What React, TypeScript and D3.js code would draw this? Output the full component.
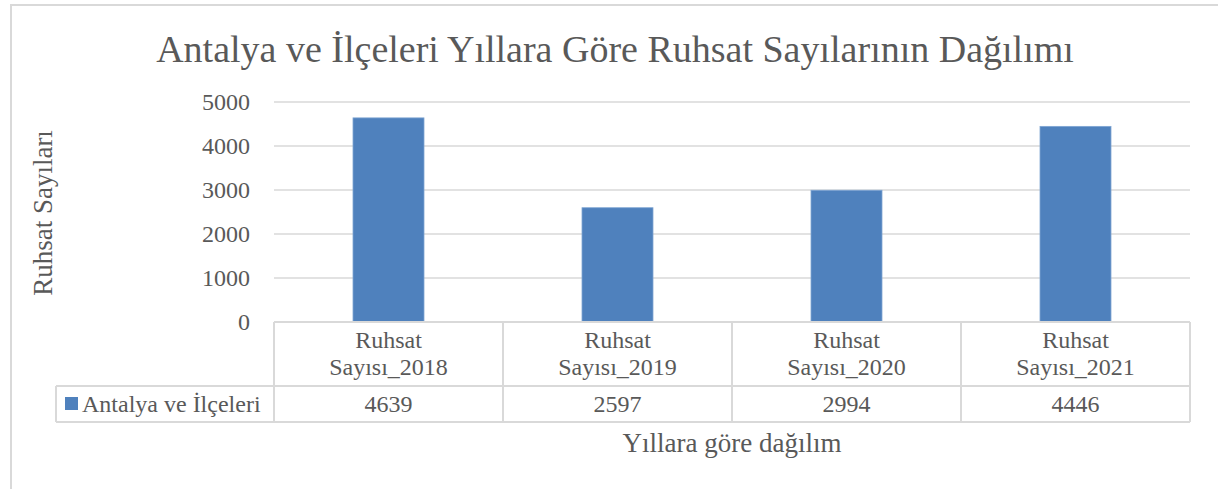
import * as d3 from 'd3';

const categories = ['Ruhsat Sayısı_2018', 'Ruhsat Sayısı_2019', 'Ruhsat Sayısı_2020', 'Ruhsat Sayısı_2021'];
const values = [4639, 2597, 2994, 4446];
const yTicks = [0, 1000, 2000, 3000, 4000, 5000];
const seriesName = 'Antalya ve İlçeleri';
const title = 'Antalya ve İlçeleri Yıllara Göre Ruhsat Sayılarının Dağılımı';
const yTitle = 'Ruhsat Sayıları';
const xTitle = 'Yıllara göre dağılım';

const W = 1218;
const H = 489;
const font = '"Liberation Serif", serif';
const textColor = '#595959';
const lineColor = '#D9D9D9';
const barColor = '#4F81BD';

const plot = { left: 274, right: 1190, top: 102, bottom: 322 };
const headerBottom = 386;
const rowBottom = 422;
const legendLeft = 56;

const App = () => {
  const x = d3.scaleBand().domain(categories).range([plot.left, plot.right]);
  const y = d3.scaleLinear().domain([0, 5000]).range([plot.bottom, plot.top]);
  const barW = 71;
  const bounds = [plot.left, ...categories.map((c) => (x(c) || 0) + x.bandwidth())];

  return (
    <svg
      width={W}
      height={H}
      style={{ position: 'absolute', left: 0, top: 0, background: '#fff' }}
      fontFamily={font}
      fill={textColor}
    >
      {/* chart frame */}
      <rect x={11} y={5} width={W + 20} height={H + 20} fill="#fff" stroke={lineColor} strokeWidth={2} />

      <text x={615} y={62} fontSize={38} textAnchor="middle">
        {title}
      </text>

      {/* gridlines */}
      {yTicks.slice(1).map((t) => (
        <line key={t} x1={plot.left} x2={plot.right} y1={y(t)} y2={y(t)} stroke={lineColor} strokeWidth={1.5} />
      ))}

      {/* y tick labels */}
      {yTicks.map((t) => (
        <text key={t} x={250} y={y(t) + 8} fontSize={24} textAnchor="end">
          {t}
        </text>
      ))}

      {/* bars */}
      {categories.map((c, i) => (
        <rect
          key={c}
          x={(x(c) || 0) + x.bandwidth() / 2 - barW / 2}
          y={y(values[i])}
          width={barW}
          height={y(0) - y(values[i])}
          fill={barColor}
          stroke="#7FA5D3"
          strokeWidth={0.8}
        />
      ))}

      {/* data table */}
      <g stroke={lineColor} strokeWidth={2} fill="none">
        <line x1={plot.left} x2={plot.right} y1={plot.bottom} y2={plot.bottom} />
        <line x1={legendLeft} x2={plot.right} y1={headerBottom} y2={headerBottom} />
        <line x1={legendLeft} x2={plot.right} y1={rowBottom} y2={rowBottom} />
        <line x1={legendLeft} x2={legendLeft} y1={headerBottom} y2={rowBottom} />
        {bounds.map((b) => (
          <line key={b} x1={b} x2={b} y1={plot.bottom} y2={rowBottom} />
        ))}
      </g>

      {categories.map((c, i) => {
        const cx = (x(c) || 0) + x.bandwidth() / 2;
        const parts = c.split(' ');
        return (
          <g key={c}>
            <text x={cx} y={348} fontSize={24} textAnchor="middle">
              {parts[0]}
            </text>
            <text x={cx} y={375} fontSize={24} textAnchor="middle">
              {parts[1]}
            </text>
            <text x={cx} y={412} fontSize={24} textAnchor="middle">
              {values[i]}
            </text>
          </g>
        );
      })}

      <rect x={65} y={397} width={13} height={13} fill={barColor} />
      <text x={82} y={412} fontSize={24}>
        {seriesName}
      </text>

      <text x={732} y={452} fontSize={27} textAnchor="middle">
        {xTitle}
      </text>
      <text transform="translate(52,213) rotate(-90)" fontSize={27} textAnchor="middle">
        {yTitle}
      </text>
    </svg>
  );
};

export default App;
